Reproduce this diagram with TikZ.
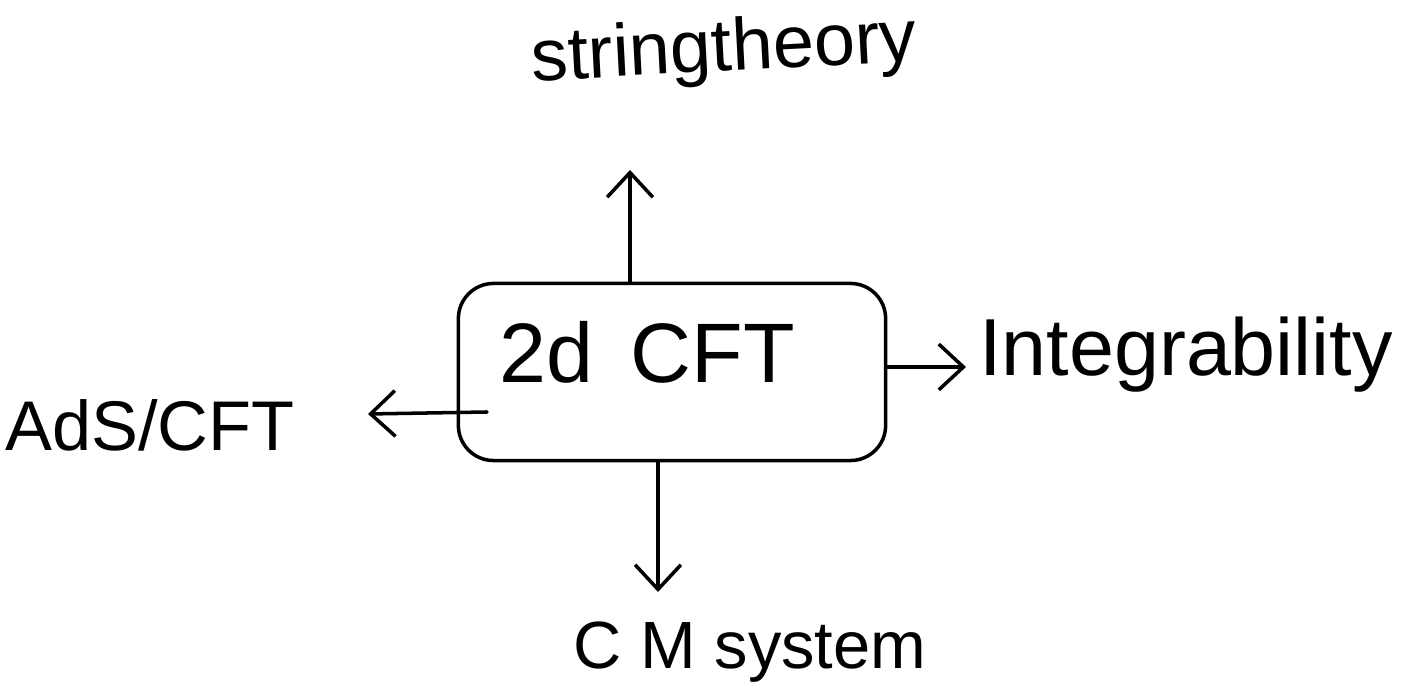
\documentclass[tikz,border=0pt]{standalone}
\usepackage{fontspec}
\setmainfont{Liberation Sans}
\usetikzlibrary{arrows.meta}
\tikzset{
  ink/.style={line width=1pt, line cap=round, line join=round},
  arr/.style={ink, -{Straight Barb[length=7pt,width=13pt,line width=1pt]}},
  hub/.style={draw, ink, rounded corners=10pt, minimum width=4.27cm, minimum height=1.77cm},
  topic/.style={inner sep=2pt, font=\fontsize{20}{24}\selectfont}
}
\begin{document}
\begin{tikzpicture}[x=0.01cm, y=-0.01cm]
  \useasboundingbox (0,0) rectangle (1412,692);

  % central box and its label
  \node[hub] (box) at (672,372) {};
  \node[topic, font=\fontsize{24}{28}\selectfont] (cft) at (647,352) {2d\, CFT};

  % surrounding topics
  \node[topic, font=\fontsize{21}{24}\selectfont, rotate=3] (string) at (724,52) {stringtheory};
  \node[topic, font=\fontsize{23}{26}\selectfont] (integ) at (1186,355) {Integrability};
  \node[topic] (ads) at (150,425) {AdS/CFT};
  \node[topic, font=\fontsize{19}{22}\selectfont] (cm) at (750,652) {C M system};

  % free arrow ends
  \coordinate (upEnd) at (630,170);
  \coordinate (leftEnd) at (368,414);
  \coordinate (downEnd) at (658,592);
  \coordinate (rightEnd) at (966,367);

  % connectors
  \draw[arr] (box.north -| upEnd) -- (upEnd);
  \draw[arr] (box.east |- rightEnd) -- (rightEnd);
  \draw[arr] (487,412) -- (leftEnd);
  \draw[arr] (box.south -| downEnd) -- (downEnd);
\end{tikzpicture}
\end{document}
